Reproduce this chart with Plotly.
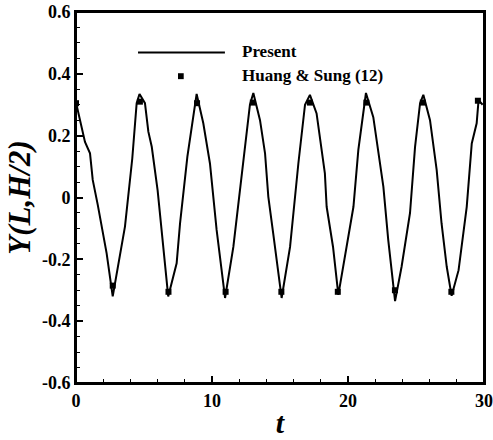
import plotly.graph_objects as go

# Present (line)
t_present = [0, 0.54, 0.66, 1.03, 1.23, 1.6, 2.25, 2.7, 3.6, 4.14, 4.46, 4.67, 5.07, 5.32, 5.57,
             6.0, 6.54, 6.78, 7.4, 7.65, 8.19, 8.87, 9.36, 9.85, 10.34, 10.96, 11.57, 12.3,
             12.79, 13.04, 13.53, 13.9, 14.14, 14.5, 15.12, 15.74, 16.35, 16.84, 17.2, 17.69,
             18.3, 18.43, 18.9, 19.29, 19.8, 20.4, 20.76, 21.0, 21.2, 21.32, 21.86, 22.6,
             22.96, 23.46, 23.94, 24.56, 24.93, 25.3, 25.54, 26.03, 26.52, 26.88, 27.26,
             27.62, 28.13, 28.73, 29.1, 29.46, 29.6, 29.9]
y_present = [0.307, 0.21, 0.18, 0.143, 0.057, -0.024, -0.18, -0.32, -0.094, 0.127, 0.305, 0.335,
             0.305, 0.213, 0.164, 0.024, -0.20, -0.32, -0.213, -0.084, 0.132, 0.335, 0.24,
             0.11, -0.105, -0.325, -0.16, 0.121, 0.30, 0.338, 0.25, 0.143, 0.003, -0.116,
             -0.325, -0.16, 0.11, 0.30, 0.332, 0.272, 0.078, -0.03, -0.16, -0.315, -0.19,
             -0.03, 0.154, 0.23, 0.31, 0.338, 0.26, 0.035, -0.138, -0.335, -0.224, -0.05,
             0.164, 0.305, 0.332, 0.25, 0.089, -0.084, -0.224, -0.318, -0.235, -0.03, 0.175,
             0.24, 0.315, 0.30]

# Huang & Sung (12) (square markers)
t_huang = [0, 2.7, 4.7, 6.8, 8.9, 11.0, 13.0, 15.1, 17.2, 19.25, 21.35, 23.45, 25.5, 27.6, 29.55]
y_huang = [0.305, -0.285, 0.31, -0.305, 0.305, -0.305, 0.307, -0.305, 0.307, -0.305, 0.307,
           -0.30, 0.307, -0.305, 0.313]

x_ticks = [0, 10, 20, 30]
x_ticklabels = ["0", "10", "20", "30"]
y_ticks = [-0.6, -0.4, -0.2, 0, 0.2, 0.4, 0.6]
y_ticklabels = ["-0.6", "-0.4", "-0.2", "0", "0.2", "0.4", "0.6"]

legend_labels = ["Present", "Huang & Sung (12)"]

FONT = "Liberation Serif"

fig = go.Figure()
fig.add_trace(go.Scatter(x=t_present, y=y_present, mode="lines",
                         line=dict(color="black", width=2), showlegend=False))
fig.add_trace(go.Scatter(x=t_huang, y=y_huang, mode="markers",
                         marker=dict(symbol="square", size=6, color="black"), showlegend=False))

# plot frame
fig.add_shape(type="rect", xref="paper", yref="paper", x0=0, x1=1, y0=0, y1=1,
              line=dict(color="black", width=2), layer="above")

# manual legend key (paper-anchored)
fig.add_shape(type="line", xref="paper", yref="paper", x0=0.152, x1=0.365, y0=0.891, y1=0.891,
              line=dict(color="black", width=2))
fig.add_shape(type="rect", xref="paper", yref="paper", x0=0.250, x1=0.264, y0=0.819, y1=0.835,
              line=dict(width=0), fillcolor="black")
fig.add_annotation(xref="paper", yref="paper", x=0.402, y=0.893, text="<b>" + legend_labels[0] + "</b>",
                   showarrow=False, xanchor="left", yanchor="middle",
                   font=dict(family=FONT, size=17, color="black"))
fig.add_annotation(xref="paper", yref="paper", x=0.402, y=0.829, text="<b>" + legend_labels[1] + "</b>",
                   showarrow=False, xanchor="left", yanchor="middle",
                   font=dict(family=FONT, size=17, color="black"))

axis_common = dict(showgrid=False, zeroline=False, ticks="inside", tickcolor="black",
                   linecolor="black", linewidth=2, mirror=True, showline=True, automargin=False,
                   ticklabeloverflow="allow",
                   tickfont=dict(family=FONT, size=18, color="black", weight="bold"))

fig.update_layout(
    width=493, height=440,
    margin=dict(l=76, r=9, t=12, b=57),
    paper_bgcolor="white", plot_bgcolor="white",
    xaxis=dict(range=[0, 30], tickvals=x_ticks, ticktext=x_ticklabels, ticklen=7, tickwidth=2,
               minor=dict(ticks="inside", dtick=2, ticklen=4, tickcolor="black", tickwidth=1),
               title=dict(text="<b><i>t</i></b>", font=dict(family=FONT, size=30, color="black"),
                          standoff=2),
               **axis_common),
    yaxis=dict(range=[-0.6, 0.6], tickvals=y_ticks, ticktext=y_ticklabels, ticklen=7, tickwidth=2,
               minor=dict(ticks="inside", dtick=0.05, ticklen=4, tickcolor="black", tickwidth=1),
               title=dict(text="<b><i>Y(L,H/2)</i></b>", font=dict(family=FONT, size=31, color="black"),
                          standoff=2),
               **axis_common),
)

fig.write_html("out.html", config={"displayModeBar": False},
               post_script="document.body.style.margin='0';document.body.style.overflow='hidden';")
